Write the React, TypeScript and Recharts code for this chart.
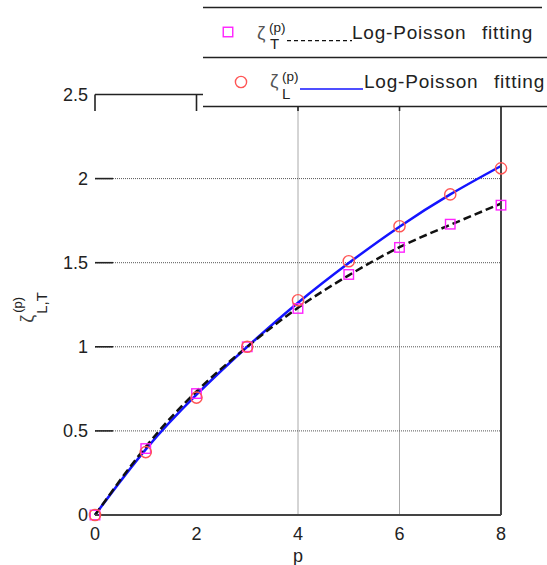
import React from 'react';
import { LineChart, Line, XAxis, YAxis, ReferenceLine, Legend } from 'recharts';

const P_VALUES = [0, 1, 2, 3, 4, 5, 6, 7, 8];
const ZETA_T = [0, 0.395, 0.722, 1.0, 1.228, 1.43, 1.591, 1.729, 1.842];
const ZETA_L = [0, 0.374, 0.698, 1.0, 1.277, 1.509, 1.717, 1.906, 2.061];
const FIT_T = [0, 0.405, 0.735, 1.0, 1.232, 1.425, 1.592, 1.725, 1.852];
const FIT_L = [0, 0.39, 0.715, 1.0, 1.262, 1.498, 1.714, 1.906, 2.075];
const X_TICKS = [0, 2, 4, 6, 8];
const Y_TICKS = [0, 0.5, 1, 1.5, 2, 2.5];
const GRID_Y = [0.5, 1, 1.5, 2];
const GRID_X = [4, 6];
const TOP_TICKS_ONLY = [0, 2];
const LEGEND_WORDS = ['Log-Poisson', 'fitting'];
const SUB_T = 'T';
const SUB_L = 'L';
const SUB_LT = 'L,T';
const SUP_P = '(p)';
const X_LABEL = 'p';

const data = P_VALUES.map((p, i) => ({
  p,
  zT: ZETA_T[i],
  zL: ZETA_L[i],
  fT: FIT_T[i],
  fL: FIT_L[i],
}));

const FONT = '"Liberation Sans", Arial, sans-serif';
const AXIS = '#444';
const GRID = '#555';
const MAGENTA = '#ff22ff';
const RED = '#ff5555';
const BLUE = '#1414ff';

const squareDot = (props: any) => {
  const { cx, cy, index } = props;
  if (cx == null || cy == null) return null;
  return (
    <rect key={`sq${index}`} x={cx - 4.75} y={cy - 4.75} width={9.5} height={9.5}
      fill="none" stroke={MAGENTA} strokeWidth={1.4} />
  );
};
const circleDot = (props: any) => {
  const { cx, cy, index } = props;
  if (cx == null || cy == null) return null;
  return <circle key={`ci${index}`} cx={cx} cy={cy} r={5.6} fill="none" stroke={RED} strokeWidth={1.4} />;
};

const hGridShape = (props: any) => {
  const { x1, y1, x2 } = props;
  const left = Math.min(x1, x2);
  const right = Math.max(x1, x2);
  return (
    <g>
      <line x1={left} y1={y1} x2={right} y2={y1} stroke={GRID} strokeWidth={1} strokeDasharray="1 1" />
      <line x1={left} y1={y1} x2={left + 18} y2={y1} stroke="#222" strokeWidth={1.6} />
    </g>
  );
};
const vGridShape = (props: any) => {
  const { x1, y1, y2 } = props;
  const top = Math.min(y1, y2);
  const bottom = Math.max(y1, y2);
  return (
    <g>
      <line x1={x1} y1={top} x2={x1} y2={bottom} stroke={GRID} strokeWidth={1} strokeDasharray="1 1" />
      <line x1={x1} y1={top} x2={x1} y2={top + 16.5} stroke="#222" strokeWidth={1.6} />
    </g>
  );
};
const topTickShape = (props: any) => {
  const { x1, y1, y2 } = props;
  const top = Math.min(y1, y2);
  return <line x1={x1} y1={top} x2={x1} y2={top + 16.5} stroke="#222" strokeWidth={1.6} />;
};

const renderYLabel = (props: any) => {
  const vb = props.viewBox || { x: 0, y: 94.5, width: 95, height: 420 };
  const cy = vb.y + vb.height / 2;
  return (
    <g transform={`translate(${vb.x},${cy}) rotate(-90)`} fontFamily={FONT}>
      <text x={-18} y={33} fontSize={18} fill="#444">ζ</text>
      <text x={-8} y={22} fontSize={13} fill="#222">{SUP_P}</text>
      <text x={-9} y={47} fontSize={15} fill="#222">{SUB_LT}</text>
    </g>
  );
};

const renderXLabel = (props: any) => {
  const vb = props.viewBox || { x: 95, y: 515, width: 406, height: 50 };
  return (
    <text x={vb.x + vb.width / 2} y={vb.y + 47} textAnchor="middle" fontSize={18} fill="#222" fontFamily={FONT}>
      {X_LABEL}
    </text>
  );
};

const renderLegend = () => (
  <svg width={547} height={110} style={{ display: 'block' }} fontFamily={FONT}>
    <rect x={203} y={0} width={344} height={107} fill="#fff" />
    <line x1={203} y1={7.5} x2={542} y2={7.5} stroke="#222" strokeWidth={1.5} />
    <line x1={203} y1={57.5} x2={547} y2={57.5} stroke="#222" strokeWidth={1.5} />
    <line x1={203} y1={106.5} x2={547} y2={106.5} stroke="#222" strokeWidth={1.5} />
    <rect x={228 - 4.75} y={32 - 4.75} width={9.5} height={9.5} fill="none" stroke={MAGENTA} strokeWidth={1.4} />
    <text x={257} y={39} fontSize={19} fill="#555">ζ</text>
    <text x={269} y={32} fontSize={13.5} fill="#222">{SUP_P}</text>
    <text x={270} y={49} fontSize={15} fill="#222">{SUB_T}</text>
    <line x1={287} y1={40.7} x2={352} y2={40.7} stroke="#111" strokeWidth={1.2} strokeDasharray="4 3" />
    <text x={352} y={38.5} fontSize={19} letterSpacing={0.8} fill="#222">{LEGEND_WORDS[0]}</text>
    <text x={482} y={38.5} fontSize={19} letterSpacing={0.8} fill="#222">{LEGEND_WORDS[1]}</text>
    <circle cx={241} cy={82} r={5.6} fill="none" stroke={RED} strokeWidth={1.4} />
    <text x={270} y={87} fontSize={19} fill="#555">ζ</text>
    <text x={282} y={81} fontSize={13.5} fill="#222">{SUP_P}</text>
    <text x={282} y={98.5} fontSize={15} fill="#222">{SUB_L}</text>
    <line x1={300} y1={89} x2={363} y2={89} stroke={BLUE} strokeWidth={1.6} />
    <text x={364} y={87.5} fontSize={19} letterSpacing={0.8} fill="#222">{LEGEND_WORDS[0]}</text>
    <text x={494} y={87.5} fontSize={19} letterSpacing={0.8} fill="#222">{LEGEND_WORDS[1]}</text>
  </svg>
);

export default function App() {
  return (
    <div style={{ position: 'absolute', left: 0, top: 0, width: 547, height: 565, background: '#fff' }}>
      <LineChart width={547} height={565} data={data}
        margin={{ top: 94.5, right: 46, left: 0, bottom: 0 }}>
        <XAxis dataKey="p" type="number" domain={[0, 8]} ticks={X_TICKS} interval={0}
          axisLine={false} tickLine={false} tickSize={10} tickMargin={2} height={50}
          tick={{ fontSize: 18, fill: '#222', fontFamily: FONT }} label={renderXLabel} />
        <YAxis type="number" domain={[0, 2.5]} ticks={Y_TICKS} interval={0}
          axisLine={false} tickLine={false} tickSize={5} tickMargin={2} width={95}
          tick={{ fontSize: 18, fill: '#222', fontFamily: FONT }} label={renderYLabel} />

        {GRID_Y.map((v) => (
          <ReferenceLine key={`gy${v}`} y={v} shape={hGridShape} />
        ))}
        {GRID_X.map((v) => (
          <ReferenceLine key={`gx${v}`} x={v} shape={vGridShape} />
        ))}
        {TOP_TICKS_ONLY.map((v) => (
          <ReferenceLine key={`tt${v}`} x={v} shape={topTickShape} />
        ))}
        <ReferenceLine y={2.5} stroke="#222" strokeWidth={1.6} />

        <Line type="natural" dataKey="fL" stroke={BLUE} strokeWidth={2.5} dot={false}
          activeDot={false} isAnimationActive={false} legendType="none" />
        <Line type="natural" dataKey="fT" stroke="#111" strokeWidth={2.5} strokeDasharray="8 4"
          dot={false} activeDot={false} isAnimationActive={false} legendType="none" />
        <Line dataKey="zT" stroke="none" strokeWidth={0} dot={squareDot} activeDot={false}
          isAnimationActive={false} legendType="none" />
        <Line dataKey="zL" stroke="none" strokeWidth={0} dot={circleDot} activeDot={false}
          isAnimationActive={false} legendType="none" />

        <ReferenceLine y={0} stroke={AXIS} strokeWidth={2} />
        <ReferenceLine x={8} stroke={AXIS} strokeWidth={2} />

        <Legend layout="horizontal" align="center" verticalAlign="middle" content={renderLegend}
          wrapperStyle={{ position: 'absolute', left: 0, top: 0, width: 547, height: 110, margin: 0, padding: 0 }} />
      </LineChart>
    </div>
  );
}
